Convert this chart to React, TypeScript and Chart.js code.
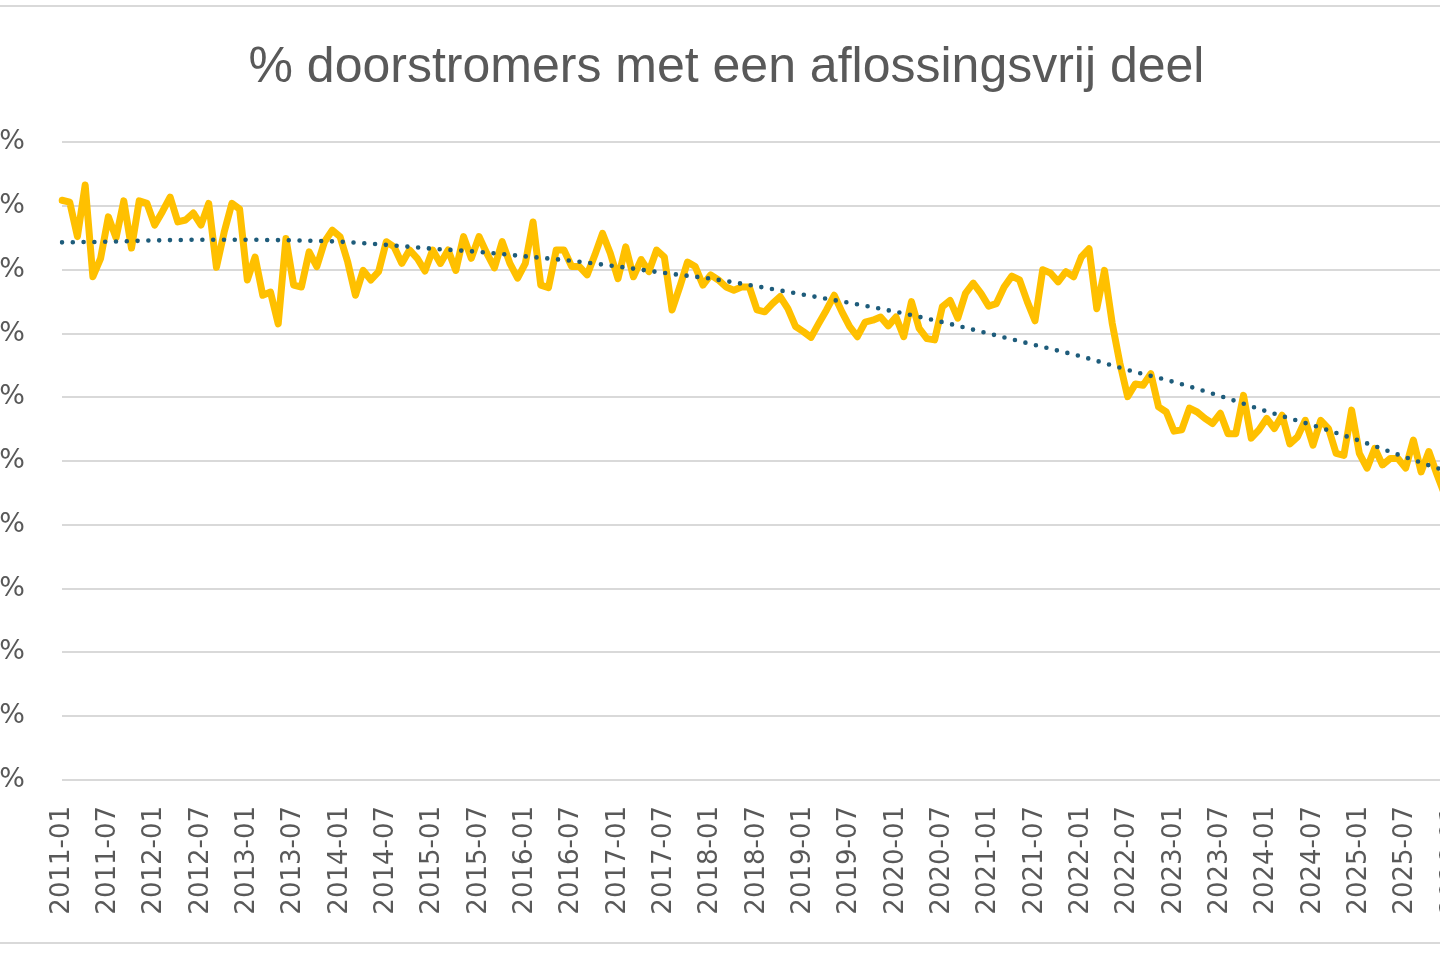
import { useEffect, useRef } from "react";
import Chart from "chart.js/auto";

// monthly categories 2011-01 .. 2026-01
const months: string[] = [];
for (let y = 2011; y <= 2026; y++) {
  for (let m = 1; m <= 12; m++) {
    if (y === 2026 && m > 1) break;
    months.push(`${y}-${String(m).padStart(2, "0")}`);
  }
}

const tickLabels = [
  "2011-01", "2011-07", "2012-01", "2012-07", "2013-01", "2013-07",
  "2014-01", "2014-07", "2015-01", "2015-07", "2016-01", "2016-07",
  "2017-01", "2017-07", "2018-01", "2018-07", "2019-01", "2019-07",
  "2020-01", "2020-07", "2021-01", "2021-07", "2022-01", "2022-07",
  "2023-01", "2023-07", "2024-01", "2024-07", "2025-01", "2025-07",
  "2026-01",
];

const yTicks = [0, 10, 20, 30, 40, 50, 60, 70, 80, 90, 100];

// % doorstromers met een aflossingsvrij deel, per maand
const share = [
  // 2011
  90.9, 90.6, 85.2, 93.3, 78.9, 81.8, 88.3, 85.0, 90.8, 83.4, 90.8, 90.4,
  // 2012
  87.0, 89.1, 91.4, 87.5, 87.8, 88.9, 87.0, 90.4, 80.4, 85.9, 90.4, 89.5,
  // 2013
  78.4, 82.0, 76.0, 76.5, 71.5, 84.9, 77.6, 77.3, 82.8, 80.5, 84.4, 86.2,
  // 2014
  85.2, 81.2, 76.0, 79.9, 78.4, 79.7, 84.4, 83.6, 81.0, 83.1, 81.8, 79.8,
  // 2015
  83.1, 81.0, 83.1, 79.9, 85.2, 81.8, 85.2, 82.6, 80.3, 84.4, 81.0, 78.7,
  // 2016
  81.0, 87.5, 77.6, 77.2, 83.1, 83.1, 80.5, 80.5, 79.2, 82.3, 85.7, 82.6,
  // 2017
  78.6, 83.6, 78.9, 81.6, 79.7, 83.1, 82.0, 73.7, 77.3, 81.2, 80.5, 77.6,
  // 2018
  79.2, 78.4, 77.3, 76.8, 77.3, 77.3, 73.7, 73.4, 74.7, 75.8, 73.9, 71.1,
  // 2019
  70.3, 69.4, 71.6, 73.7, 76.0, 73.4, 71.1, 69.5, 71.8, 72.1, 72.6, 71.2,
  // 2020
  72.6, 69.5, 75.0, 70.8, 69.2, 69.0, 74.2, 75.2, 72.4, 76.3, 77.9, 76.3,
  // 2021
  74.3, 74.7, 77.3, 79.0, 78.4, 75.0, 72.0, 80.0, 79.5, 78.1, 79.7, 78.9,
  // 2022
  82.0, 83.3, 73.9, 79.9, 71.6, 65.3, 60.1, 62.1, 61.9, 63.7, 58.5, 57.7,
  // 2023
  54.7, 54.9, 58.3, 57.7, 56.7, 55.9, 57.5, 54.3, 54.3, 60.3, 53.6, 54.9,
  // 2024
  56.7, 55.1, 57.2, 52.7, 53.8, 56.4, 52.5, 56.4, 55.1, 51.2, 50.9, 58.0,
  // 2025
  51.2, 48.9, 52.0, 49.4, 50.4, 50.4, 48.9, 53.3, 48.3, 51.5, 48.1, 44.9,
  // 2026
  43.1,
];

// trendline (polynomial) read at half-year points
const trendMonths = tickLabels;
const trendValues = [
  84.3, 84.4, 84.6, 84.7, 84.7, 84.6, 84.4, 83.9, 83.3, 82.8, 82.1, 81.4,
  80.5, 79.5, 78.6, 77.4, 76.1, 74.8, 73.4, 71.8, 70.0, 68.2, 66.4, 64.3,
  62.4, 60.2, 57.8, 55.6, 53.2, 50.6, 48.1,
];

const gold = "#FFC000";
const trendColor = "#1E5C7B";
const textColor = "#595959";
const gridColor = "#d9d9d9";

export default function App() {
  const ref = useRef<HTMLCanvasElement>(null);

  useEffect(() => {
    const canvas = ref.current;
    if (!canvas) return;
    const chart = new Chart(canvas, {
      type: "line",
      data: {
        labels: months,
        datasets: [
          {
            label: "Trend",
            data: trendMonths.map((m, i) => ({ x: m, y: trendValues[i] })),
            borderColor: trendColor,
            borderWidth: 4.6,
            borderDash: [0, 10.8],
            borderCapStyle: "round",
            pointRadius: 0,
            cubicInterpolationMode: "monotone",
            fill: false,
            order: 0,
          },
          {
            label: "Aandeel",
            data: share,
            borderColor: gold,
            borderWidth: 7,
            borderJoinStyle: "round",
            borderCapStyle: "round",
            pointRadius: 0,
            tension: 0,
            fill: false,
            order: 1,
          },
        ],
      },
      options: {
        responsive: false,
        animation: false,
        layout: { padding: { top: 20, right: 70, left: 0, bottom: 0 } },
        plugins: {
          legend: { display: false },
          tooltip: { enabled: false },
        },
        scales: {
          x: {
            offset: false,
            grid: { display: false },
            border: { display: false },
            ticks: {
              autoSkip: false,
              minRotation: 90,
              maxRotation: 90,
              padding: 18,
              color: textColor,
              font: { family: "'DejaVu Sans', sans-serif", size: 26 },
              callback: (_v, i) =>
                tickLabels.includes(months[i]) ? months[i] : null,
            },
            afterFit(s) {
              s.height = 140;
            },
          },
          y: {
            min: yTicks[0],
            max: yTicks[yTicks.length - 1],
            afterBuildTicks(s) {
              s.ticks = yTicks.map((v) => ({ value: v }));
            },
            ticks: {
              padding: 37,
              color: textColor,
              font: { family: "'DejaVu Sans', sans-serif", size: 27 },
              callback: (v) => `${v}%`,
            },
            grid: { color: gridColor, lineWidth: 2, drawTicks: false },
            border: { display: false },
            afterFit(s) {
              s.width = 100;
            },
          },
        },
      },
    });
    return () => chart.destroy();
  }, []);

  return (
    <div
      style={{
        position: "fixed",
        left: 0,
        top: 0,
        width: 1440,
        height: 960,
        overflow: "hidden",
        background: "#fff",
      }}
    >
      <div
        style={{
          position: "absolute",
          left: -10,
          width: 1460,
          top: 5,
          height: 939,
          boxSizing: "border-box",
          borderTop: `2px solid ${gridColor}`,
          borderBottom: `2px solid ${gridColor}`,
        }}
      />
      <div
        style={{
          position: "absolute",
          left: 0,
          width: 1453,
          top: 40,
          textAlign: "center",
          fontFamily: "'Liberation Sans', Arial, sans-serif",
          fontSize: 50,
          lineHeight: "50px",
          color: textColor,
          whiteSpace: "nowrap",
        }}
      >
        % doorstromers met een aflossingsvrij deel
      </div>
      <canvas
        ref={ref}
        width={1560}
        height={831}
        style={{
          position: "absolute",
          left: -38,
          top: 89,
          width: 1560,
          height: 831,
        }}
      />
    </div>
  );
}
